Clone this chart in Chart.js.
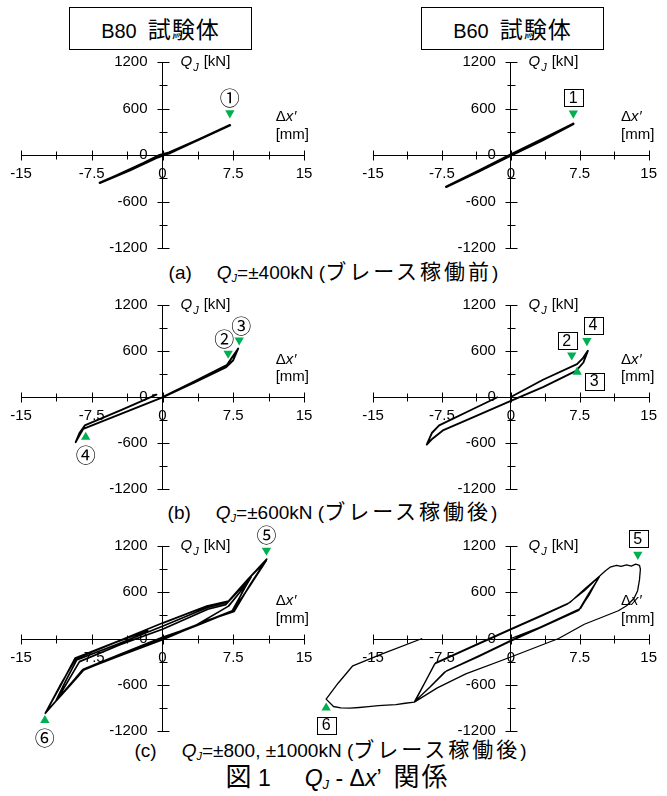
<!DOCTYPE html>
<html>
<head>
<meta charset="utf-8">
<script src="https://cdn.jsdelivr.net/npm/chart.js@4.4.0/dist/chart.umd.min.js"></script>
<style>
body { margin: 0; background: #fff; }
#page { position: relative; width: 667px; height: 796px; font-family: "Liberation Sans", Arial, "Noto Sans CJK JP", sans-serif; color: #000; }
#page canvas { position: absolute; }
.ttl { position: absolute; top: 7px; width: 181px; height: 41px; border: 1px solid #000; text-align: center; line-height: 41px; font-size: 20px; }
.ttl .jp { font-size: 23px; letter-spacing: 1px; }
.cap { position: absolute; left: 0; width: 667px; text-align: center; font-size: 19px; line-height: 22px; white-space: nowrap; }
.jp { font-family: "Noto Sans CJK JP", sans-serif; }
.cap .jp { font-size: 21px; letter-spacing: 3px; }
.cap sub { font-size: 11px; font-style: italic; vertical-align: -3px; line-height: 0; }
.gap { display: inline-block; width: 25px; }
</style>
</head>
<body>
<div id="page">
  <div class="ttl" style="left:69px">B80&nbsp;&nbsp;<span class="jp">試験体</span></div>
  <div class="ttl" style="left:421px">B60&nbsp;&nbsp;<span class="jp">試験体</span></div>
  <div class="cap" style="top:259px;left:0px">(a)<span class="gap"></span><i>Q</i><sub>J</sub>=±400kN (<span class="jp">ブレース稼働前</span>)</div>
  <div class="cap" style="top:499px;left:-1px">(b)<span class="gap"></span><i>Q</i><sub>J</sub>=±600kN (<span class="jp">ブレース稼働後</span>)</div>
  <div class="cap" style="top:737px;left:-3px">(c)<span class="gap"></span><i>Q</i><sub>J</sub>=±800, ±1000kN (<span class="jp">ブレース稼働後</span>)</div>
  <div class="cap" style="top:762px;left:4px;font-size:23px;line-height:26px"><span class="jp" style="font-size:26px;letter-spacing:0">図</span> 1<span class="gap" style="width:34px"></span><i>Q</i><sub style="font-size:13px">J</sub> - Δ<i>x</i>’ &nbsp;<span class="jp" style="font-size:26px;letter-spacing:2px">関係</span></div>
</div>
<script>
// tick labels and minor steps
const xLabels = [-15, -7.5, 0, 7.5, 15];
const qLabels = [-1200, -600, 0, 600, 1200];
const xStep = 3.75;
const qStep = 300;

// B80, QJ = ±400 kN (before brace)
const b80_400_x = [0, 0.8, 3.5, 7.15, 5.0, 2.0, 0.4, -0.5, -3.5, -6.65, -5.0, -2.0, -0.3, 0.7, 3.6, 7.1];
const b80_400_q = [0, 25, 180, 385, 265, 95, 10, -30, -200, -360, -270, -105, 0, 30, 185, 380];
// B60, QJ = ±400 kN
const b60_400_x = [0, 3.4, 6.8, 3.4, 0, -3.5, -7.04, -3.5, 0, 3.4, 6.75];
const b60_400_q = [0, 195, 401, 190, -5, -210, -410, -205, 5, 200, 398];
// B80, QJ = ±600 kN
const b80_600_x = [0, 3.5, 6.8, 7.4, 8.03, 7.5, 6.7, 3.3, 0, -4.2, -8.4, -8.8, -9.2, -8.8, -8.24, -4.4, -0.64, -1.1];
const b80_600_q = [0, 210, 415, 520, 633, 480, 385, 185, -5, -210, -415, -500, -589, -470, -371, -170, 30, 20];
// B60, QJ = ±600 kN
const b60_600_x = [0, 3.5, 7.2, 7.8, 8.38, 7.9, 7.1, 3.5, 0, -4.0, -7.4, -8.5, -9.15, -8.6, -7.8, -4.0, -1.4];
const b60_600_q = [0, 225, 428, 500, 602, 450, 340, 130, -52, -260, -436, -540, -620, -470, -371, -150, 0];
// B80, QJ = ±800, ±1000 kN
const b80_1000_x = [0, 3.5, 7.0, 8.2, 9.3, 8.3, 7.4, 3.5, 0, -4.2, -8.3, -9.8, -11.2, -10.0, -8.8, -4.5, 0, 4.8, 6.7, 8.0, 9.4,
  8.4, 7.6, 4.0, 0, -4.3, -8.4, -9.9, -11.3, -10.3, -9.1, -4.6, 0, 4.7, 6.9, 9.0, 11.0,
  9.3, 7.5, 3.8, 0, -4.3, -8.4, -10.5, -12.4, -10.8, -9.25, -4.6, 0, 4.7, 7.0, 9.0, 11.05,
  9.3, 7.6, 5.0, 0, -4.3, -8.5, -10.5, -12.42, -10.9, -9.2, -5.0, -1.5];
const b80_1000_q = [0, 170, 420, 600, 790, 560, 360, 170, 5, -200, -400, -610, -800, -550, -300, -80, 120, 380, 440, 610, 800,
  590, 370, 185, 15, -195, -400, -610, -810, -560, -280, -64, 160, 400, 470, 760, 1010,
  690, 360, 175, -5, -205, -410, -700, -965, -610, -252, -30, 200, 420, 487, 760, 1030,
  700, 352, 245, -15, -215, -410, -700, -970, -620, -262, -50, 105];
// B60, QJ = ±800, ±1000 kN
const b60_1000_x = [0, 3.5, 7.4, 8.5, 9.65, 8.5, 7.6, 3.5, 0, -3.5, -7.0, -8.7, -10.4, -9.3, -8.3, -4.0, 0, 3.5, 6.2, 8.0, 9.6,
  8.5, 7.4, 3.5, 0, -3.5, -7.2, -8.8, -10.5, -9.3, -8.2, -4.0, 0, 3.5, 6.4, 8.0, 9.7,
  10.3, 10.8, 11.5, 12.0, 12.6, 13.1, 13.6, 14.0, 14.1, 14.0, 13.8, 13.4, 12.6, 11.7, 8.0, 5.2, 0, -4.9, -8.0, -10.5,
  -11.5, -12.5, -13.5, -14.4, -15.5, -16.5, -17.5, -18.5, -19.3, -20.1, -18.8, -17.2, -14.0, -9.65];
const b60_1000_q = [0, 160, 370, 590, 801, 570, 390, 165, -25, -225, -420, -620, -810, -560, -330, -100, 115, 300, 450, 620, 800,
  560, 365, 155, -35, -235, -435, -630, -822, -560, -315, -90, 125, 310, 465, 640, 815,
  880, 925, 950, 935, 955, 940, 965, 950, 900, 760, 620, 520, 425, 360, 185, 0, -240, -460, -640, -825,
  -840, -858, -865, -872, -885, -895, -903, -900, -882, -786, -580, -354, -200, 0];

// green markers: [x, Q, label, direction]
const b80_400_marks = [[7.14, 542, '①', 'down']];
const b60_400_marks = [[6.8, 538, '1', 'down']];
const b80_600_marks = [[6.96, 568, '②', 'down'], [8.13, 742, '③', 'down'], [-8.14, -524, '④', 'up']];
const b60_600_marks = [[6.63, 546, '2', 'down'], [8.28, 733, '4', 'down'], [7.22, 327, '3', 'up']];
const b80_1000_marks = [[11.02, 1142, '⑤', 'down'], [-12.47, -1062, '⑥', 'up']];
const b60_1000_marks = [[13.82, 1090, '5', 'down'], [-20.1, -900, '6', 'up']];

const FONT = '"Liberation Sans", Arial, sans-serif';
const GREEN = '#00b050';
Chart.defaults.font.family = FONT;
Chart.defaults.font.size = 15;
Chart.defaults.color = '#000';

function triangle(ctx, x, y, r, down) {
  // same geometry as Chart.js 'triangle' point style
  const s = down ? -1 : 1;
  ctx.beginPath();
  ctx.moveTo(x, y - s * r);
  ctx.lineTo(x + r * 0.866, y + s * r / 2);
  ctx.lineTo(x - r * 0.866, y + s * r / 2);
  ctx.closePath();
  ctx.fill();
}

const deco = {
  id: 'deco',
  afterDatasetsDraw(chart) {
    const o = chart.options.plugins.deco;
    const ctx = chart.ctx, sx = chart.scales.x, sy = chart.scales.y;
    const x0 = Math.round(sx.getPixelForValue(0)) + 0.5;
    const y0 = Math.round(sy.getPixelForValue(0)) + 0.5;
    ctx.save();
    ctx.strokeStyle = '#000';
    ctx.lineWidth = 1;
    ctx.beginPath();
    sx.ticks.forEach(t => {
      const p = Math.round(sx.getPixelForValue(t.value)) + 0.5, h = t.label ? 5 : 4;
      ctx.moveTo(p, y0 - h); ctx.lineTo(p, y0 + h);
    });
    sy.ticks.forEach(t => {
      const p = Math.round(sy.getPixelForValue(t.value)) + 0.5, h = t.label ? 6 : 4;
      ctx.moveTo(x0 - h, p); ctx.lineTo(x0 + h, p);
    });
    ctx.stroke();

    // axis titles
    ctx.fillStyle = '#000';
    ctx.textAlign = 'left';
    ctx.textBaseline = 'middle';
    const ty = sy.getPixelForValue(1200);
    let tx = x0 + 17;
    ctx.font = 'italic 15px ' + FONT;
    ctx.fillText('Q', tx, ty);
    tx += ctx.measureText('Q').width + 1;
    ctx.font = 'italic 11px ' + FONT;
    ctx.fillText('J', tx, ty + 6);
    tx += ctx.measureText('J').width + 5;
    ctx.font = '15px ' + FONT;
    ctx.fillText('[kN]', tx, ty);

    const ax = sx.getPixelForValue(12), ay = sy.getPixelForValue(490);
    ctx.fillText('Δ', ax, ay);
    let w = ctx.measureText('Δ').width;
    ctx.font = 'italic 15px ' + FONT;
    ctx.fillText('x', ax + w, ay);
    w += ctx.measureText('x').width;
    ctx.font = '15px ' + FONT;
    ctx.fillText('′', ax + w + 1, ay);
    ctx.fillText('[mm]', ax, sy.getPixelForValue(258));

    // green markers and their labels
    ctx.textAlign = 'center';
    o.marks.forEach(m => {
      const px = sx.getPixelForValue(m[0]), py = sy.getPixelForValue(m[1]);
      ctx.fillStyle = GREEN;
      triangle(ctx, px, py, 5.4, m[3] === 'down');
      ctx.fillStyle = '#000';
      const sh = o.shift[m[2]] || (m[3] === 'down' ? [0, -16] : [0, 17]);
      const lx = px + sh[0], ly = py + sh[1];
      if (o.boxed) {
        ctx.font = '16px ' + FONT;
        ctx.fillText(m[2], lx, ly + 1);
        ctx.strokeRect(Math.round(lx - 9) + 0.5, Math.round(ly - 8) + 0.5, 19, 17);
      } else {
        ctx.font = '20px "Noto Sans CJK JP", sans-serif';
        ctx.fillText(m[2], lx, ly + 1);
      }
    });
    ctx.restore();
  }
};

const page = document.getElementById('page');

function panel(area, xs, qs, marks, opt) {
  const padL = opt.padL, padR = opt.padR, padT = 26, padB = 24;
  const w = area.w + padL + padR, h = area.h + padT + padB;
  const cv = document.createElement('canvas');
  cv.width = w; cv.height = h;
  cv.style.width = w + 'px'; cv.style.height = h + 'px';
  cv.style.left = (area.left - padL) + 'px';
  cv.style.top = (area.top - padT) + 'px';
  page.appendChild(cv);

  new Chart(cv, {
    type: 'scatter',
    data: {
      datasets: [{
        data: xs.map((x, i) => ({x: x, y: qs[i]})),
        showLine: true,
        borderColor: '#000',
        borderWidth: opt.lw,
        borderJoinStyle: 'round',
        pointRadius: 0,
        tension: 0,
        clip: false
      }]
    },
    options: {
      responsive: false,
      animation: false,
      devicePixelRatio: 1,
      events: [],
      layout: {padding: {left: padL, right: padR, top: padT, bottom: padB}},
      plugins: {
        legend: {display: false},
        tooltip: {enabled: false},
        deco: {marks: marks, boxed: opt.boxed, shift: opt.shift || {}}
      },
      scales: {
        x: {
          type: 'linear', position: 'center', min: -15, max: 15,
          grid: {display: false, drawTicks: false},
          border: {display: true, color: '#000', width: 1},
          ticks: {stepSize: xStep, autoSkip: false, maxRotation: 0, padding: 10,
            callback: v => xLabels.includes(v) ? String(v) : ''}
        },
        y: {
          type: 'linear', position: 'center', min: -1200, max: 1200,
          grid: {display: false, drawTicks: false},
          border: {display: true, color: '#000', width: 1},
          ticks: {stepSize: qStep, autoSkip: false, padding: 15,
            callback: v => qLabels.includes(v) ? String(v) : ''}
        }
      }
    },
    plugins: [deco]
  });
}

panel({left: 21, top: 62, w: 283, h: 186}, b80_400_x, b80_400_q, b80_400_marks, {padL: 21, padR: 30, lw: 2.3});
panel({left: 373, top: 62, w: 283, h: 186}, b60_400_x, b60_400_q, b60_400_marks, {padL: 30, padR: 11, lw: 2.5, boxed: true});
panel({left: 21, top: 305, w: 283, h: 184}, b80_600_x, b80_600_q, b80_600_marks, {padL: 21, padR: 30, lw: 1.9,
  shift: {'②': [-4, -15], '③': [2, -15]}});
panel({left: 373, top: 305, w: 283, h: 184}, b60_600_x, b60_600_q, b60_600_marks, {padL: 30, padR: 11, lw: 1.9, boxed: true,
  shift: {'2': [-5, -15], '4': [6, -16], '3': [17, 9]}});
panel({left: 21, top: 546, w: 283, h: 185}, b80_1000_x, b80_1000_q, b80_1000_marks, {padL: 21, padR: 30, lw: 1.7});
panel({left: 373, top: 546, w: 283, h: 185}, b60_1000_x, b60_1000_q, b60_1000_marks, {padL: 60, padR: 11, lw: 1.3, boxed: true});
</script>
</body>
</html>
